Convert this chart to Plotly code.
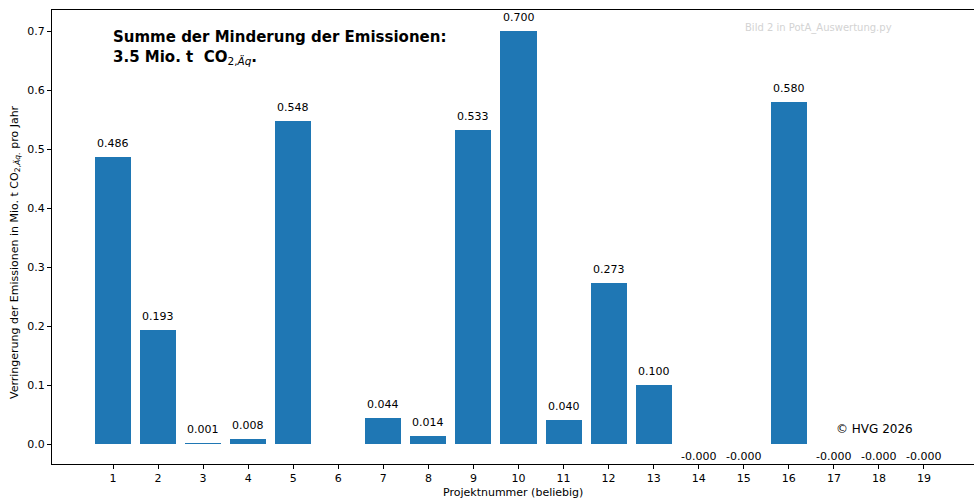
import plotly.graph_objects as go

# Project numbers and emission reductions (Mio. t CO2-eq per year)
projects = list(range(1, 20))
reductions = [0.486, 0.193, 0.001, 0.008, 0.548, None, 0.044, 0.014, 0.533, 0.700,
              0.040, 0.273, 0.100, -0.0, -0.0, 0.580, -0.0, -0.0, -0.0]
tick_labels = [str(p) for p in projects]

total = sum(v for v in reductions if v is not None)

W, H = 974, 501
L, R, T, B = 52, 0, 10, 37
plot_w = W - L - R
plot_h = H - T - B


def px(x):
    return (x - L) / plot_w


def py(y):
    return (H - B - y) / plot_h


FONT = "DejaVu Sans"
BAR_COLOR = "#1f77b4"

fig = go.Figure()
fig.add_trace(go.Bar(
    x=projects,
    y=reductions,
    width=0.8,
    marker=dict(color=BAR_COLOR, line=dict(width=0)),
    hoverinfo="x+y",
))

annotations = []
# value labels above/below each bar (sign-aware placement)
for p, v in zip(projects, reductions):
    if v is None:
        continue
    negative = str(v).startswith("-")
    annotations.append(dict(
        x=p, y=v, xref="x", yref="y",
        text=f"{v:.3f}",
        showarrow=False,
        font=dict(family=FONT, size=11, color="#000000"),
        yanchor="top" if negative else "bottom",
        yshift=-4 if negative else 5,
    ))

# heading with the total reduction
annotations.append(dict(
    x=px(111), y=py(26), xref="paper", yref="paper",
    xanchor="left", yanchor="top", align="left",
    text=(f"<b>Summe der Minderung der Emissionen:<br>{total:.1f} Mio. t  CO</b>"
          "<sub><span style='font-weight:normal'>2,<i>Äq</i></span></sub><b>.</b>"),
    showarrow=False,
    font=dict(family=FONT, size=15, color="#000000"),
))

# script note
annotations.append(dict(
    x=px(743), y=py(28), xref="paper", yref="paper",
    xanchor="left", yanchor="middle",
    text="Bild 2 in PotA_Auswertung.py",
    showarrow=False,
    font=dict(family=FONT, size=10, color="#d3d3d3"),
))

# copyright
annotations.append(dict(
    x=px(834), y=py(429), xref="paper", yref="paper",
    xanchor="left", yanchor="middle",
    text="© HVG 2026",
    showarrow=False,
    font=dict(family=FONT, size=12, color="#000000"),
))

# y axis title
annotations.append(dict(
    x=px(15), y=py(252), xref="paper", yref="paper",
    xanchor="center", yanchor="middle",
    text="Verringerung der Emissionen in Mio. t CO<sub>2,<i>Äq.</i></sub> pro Jahr",
    textangle=-90,
    showarrow=False,
    font=dict(family=FONT, size=11, color="#000000"),
))

# x axis title
annotations.append(dict(
    x=px(513), y=py(492), xref="paper", yref="paper",
    xanchor="center", yanchor="middle",
    text="Projektnummer (beliebig)",
    showarrow=False,
    font=dict(family=FONT, size=11, color="#000000"),
))

fig.update_layout(
    width=W, height=H,
    margin=dict(l=L, r=R, t=T, b=B, pad=0),
    paper_bgcolor="white",
    plot_bgcolor="white",
    showlegend=False,
    bargap=0,
    annotations=annotations,
    font=dict(family=FONT, size=11, color="#000000"),
)

fig.update_xaxes(
    range=[-0.354, 20.11],
    tickmode="array",
    tickvals=projects,
    ticktext=tick_labels,
    ticks="outside", ticklen=4, tickwidth=1, tickcolor="#000000",
    showline=True, linecolor="#000000", linewidth=1, mirror=True,
    showgrid=False, zeroline=False,
    tickfont=dict(family=FONT, size=11, color="#000000"),
)

fig.update_yaxes(
    range=[-0.0339, 0.7356],
    tickmode="array",
    tickvals=[0.0, 0.1, 0.2, 0.3, 0.4, 0.5, 0.6, 0.7],
    ticktext=["0.0", "0.1", "0.2", "0.3", "0.4", "0.5", "0.6", "0.7"],
    ticks="outside", ticklen=4, tickwidth=1, tickcolor="#000000",
    showline=True, linecolor="#000000", linewidth=1, mirror=False,
    showgrid=False, zeroline=False,
    tickfont=dict(family=FONT, size=11, color="#000000"),
)

fig.write_html("out.html")
